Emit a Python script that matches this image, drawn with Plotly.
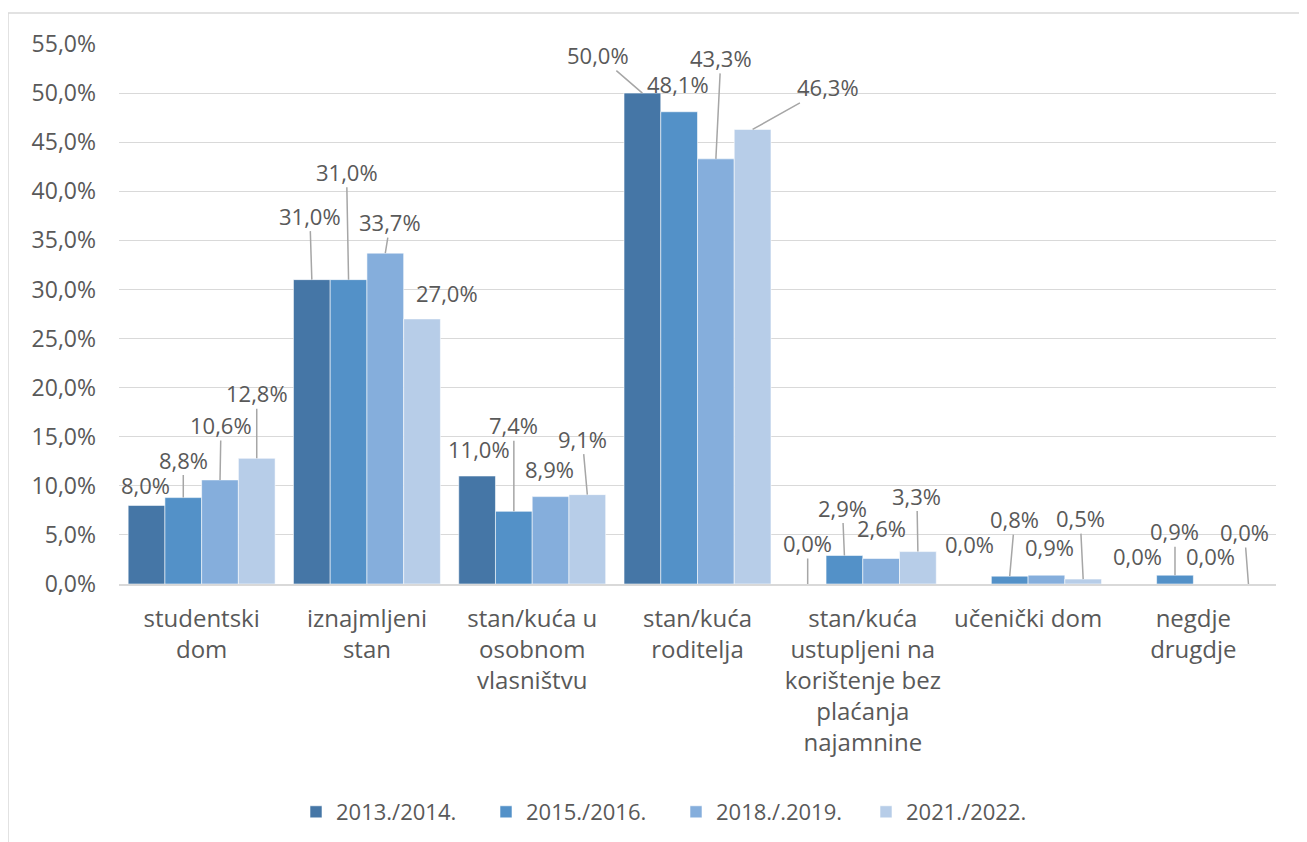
import plotly.graph_objects as go

categories = [
    "studentski<br>dom",
    "iznajmljeni<br>stan",
    "stan/kuća u<br>osobnom<br>vlasništvu",
    "stan/kuća<br>roditelja",
    "stan/kuća<br>ustupljeni na<br>korištenje bez<br>plaćanja<br>najamnine",
    "učenički dom",
    "negdje<br>drugdje",
]
series_names = ["2013./2014.", "2015./2016.", "2018./.2019.", "2021./2022."]
v2013 = [8.0, 31.0, 11.0, 50.0, 0.0, 0.0, 0.0]
v2015 = [8.8, 31.0, 7.4, 48.1, 2.9, 0.8, 0.9]
v2018 = [10.6, 33.7, 8.9, 43.3, 2.6, 0.9, 0.0]
v2021 = [12.8, 27.0, 9.1, 46.3, 3.3, 0.5, 0.0]
series_values = [v2013, v2015, v2018, v2021]
y_ticks = [0, 5, 10, 15, 20, 25, 30, 35, 40, 45, 50, 55]


def pct(v):
    return f"{v:.1f}".replace(".", ",") + "%"


# styles
colors = ["#4576A6", "#5391C8", "#85AEDC", "#B7CDE8"]
TEXT = "#595959"
GRID = "#D9D9D9"
FONT = "Open Sans"
FS = 22

# label placement (pixel offsets of label centre from bar top, leader line flag)
label_offsets = [
    [(-1, -20, 0), (-2, -64, 1), (2, -27, 0), (-44, -38, 1), (0, -41, 1), (-3, -40, 0), (-1, -28, 0)],
    [(0, -38, 1), (-2, -108, 1), (0, -86, 1), (-1, -28, 0), (-2, -48, 1), (5, -57, 1), (0, -44, 1)],
    [(1, -55, 1), (5, -31, 1), (-1, -28, 0), (5, -101, 1), (0, -30, 0), (3, -28, 0), (-1, -28, 0)],
    [(0, -65, 1), (25, -26, 0), (-5, -56, 1), (75, -42, 1), (-1, -56, 1), (-3, -61, 1), (-4, -52, 1)],
]

# page offset compensation (browser body margin)
OFF = 8
PL, PR, PT, PB = 119, 1276, 44, 584  # target plot-area pixel edges
W, H = 1307, 842

bargap = 0.111
n_series = len(series_values)
bar_w = (1 - bargap) / n_series

fig = go.Figure()
xs = list(range(len(categories)))
for s, (name, vals) in enumerate(zip(series_names, series_values)):
    fig.add_trace(go.Bar(
        x=xs, y=vals, name=name,
        marker=dict(color=colors[s], line=dict(color="rgba(255,255,255,0.7)", width=0.8)),
        hoverinfo="skip",
    ))

annotations = []
for s, vals in enumerate(series_values):
    off = -(1 - bargap) / 2 + bar_w * (s + 0.5)
    for i, v in enumerate(vals):
        ax, ay, line = label_offsets[s][i]
        annotations.append(dict(
            x=i + off, y=v, xref="x", yref="y",
            text=pct(v),
            showarrow=True, arrowhead=0, arrowwidth=1.5,
            arrowcolor="#A6A6A6" if line else "rgba(0,0,0,0)",
            ax=ax, ay=ay, axref="pixel", ayref="pixel",
            font=dict(family=FONT, size=FS, color=TEXT),
            borderpad=0,
        ))

pw = PR - PL
ph = PB - PT
fig.update_layout(
    width=W, height=H,
    margin=dict(l=PL - OFF, r=W - (PR - OFF), t=PT - OFF, b=H - (PB - OFF)),
    paper_bgcolor="white", plot_bgcolor="white",
    separators=",.",
    barmode="group", bargap=bargap, bargroupgap=0,
    font=dict(family=FONT, size=FS, color=TEXT),
    showlegend=True,
    legend=dict(
        orientation="h", x=(676 - PL) / pw, xanchor="center",
        y=(PB - 812) / ph, yanchor="middle",
        font=dict(family=FONT, size=FS, color=TEXT), itemwidth=30,
        entrywidth=145, entrywidthmode="pixels",
        traceorder="normal",
    ),
    annotations=annotations,
    shapes=[dict(
        type="rect", xref="paper", yref="paper",
        x0=(8 - PL) / pw, x1=(1305 - PL) / pw,
        y0=(PB - 870) / ph, y1=(PB - 13) / ph,
        line=dict(color=GRID, width=1.5), fillcolor="rgba(0,0,0,0)", layer="below",
    )],
)
fig.update_xaxes(
    range=[-0.5, len(categories) - 0.5],
    tickvals=xs, ticktext=categories, tickmode="array",
    showgrid=False, zeroline=False, showline=True, linecolor=GRID, linewidth=1.5,
    ticks="", ticklabelstandoff=12,
    tickfont=dict(family=FONT, size=24, color=TEXT),
)
fig.update_yaxes(
    range=[0, 55], tickvals=y_ticks, ticktext=[pct(t) for t in y_ticks], tickmode="array",
    showgrid=True, gridcolor=GRID, gridwidth=1.3, zeroline=False, showline=False,
    ticks="", ticklabelstandoff=22,
    tickfont=dict(family=FONT, size=23, color=TEXT),
)

fig.write_html("out.html")
